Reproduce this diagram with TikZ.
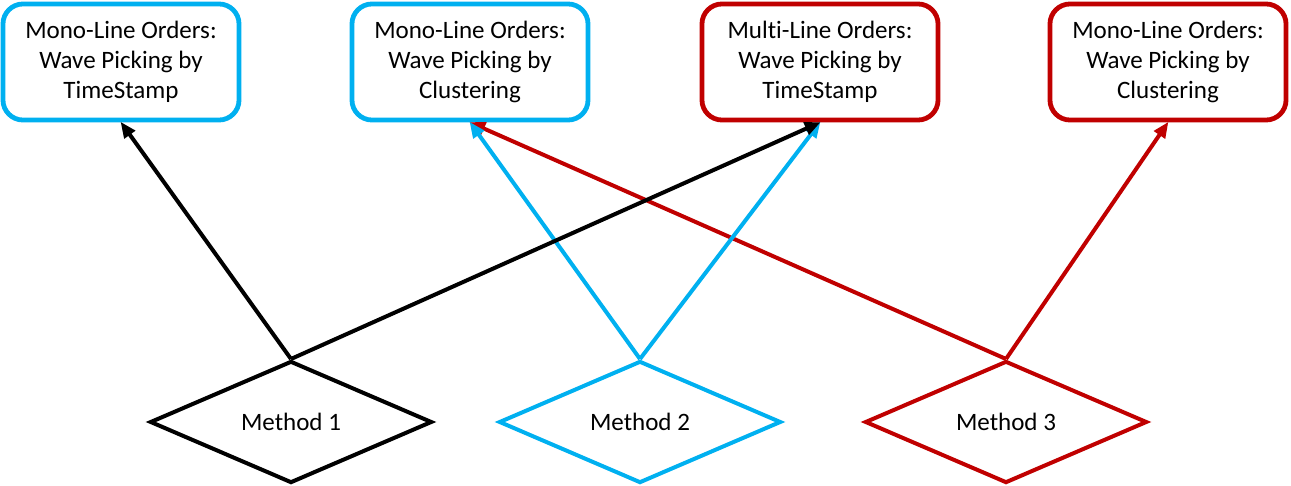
\documentclass[tikz,border=0pt]{standalone}
\usepackage{fontspec}
\setmainfont{Carlito}[Ligatures=NoCommon]
\usepackage{tikz}
\usetikzlibrary{shapes.geometric,arrows.meta,positioning}
\definecolor{lineblue}{HTML}{00B0F0}
\definecolor{linered}{HTML}{C00000}

\begin{document}
\begin{tikzpicture}[x=0.025cm, y=-0.025cm,
    order/.style={draw, rounded corners=0.5cm, line width=0.12cm, minimum width=5.9cm, minimum height=2.9cm, align=center, font=\fontsize{17.8}{21.3}\selectfont, inner sep=0pt},
    method/.style={draw, diamond, line width=0.1cm, minimum width=7.05cm, minimum height=3.05cm, font=\fontsize{17.8}{21.3}\selectfont, inner sep=0pt},
    link/.style={line width=0.1cm, -{Triangle[length=0.4cm, width=0.32cm]}, shorten >=-0.02cm}]
    \useasboundingbox (0,0) rectangle (1291,486);

    % order boxes
    \node[order, lineblue] (monotime) at (121,62) {\color{black}Mono-Line Orders:\\\color{black}Wave Picking by\\\color{black}TimeStamp};
    \node[order, lineblue] (monoclust) at (470,62) {\color{black}Mono-Line Orders:\\\color{black}Wave Picking by\\\color{black}Clustering};
    \node[order, linered] (multitime) at (820,62) {\color{black}Multi-Line Orders:\\\color{black}Wave Picking by\\\color{black}TimeStamp};
    \node[order, linered] (monoclustb) at (1168,62) {\color{black}Mono-Line Orders:\\\color{black}Wave Picking by\\\color{black}Clustering};

    % methods
    \node[method, black] (m1) at (291,422) {Method 1};
    \node[method, lineblue, text=black] (m2) at (640,422) {Method 2};
    \node[method, linered, text=black] (m3) at (1006,422) {Method 3};

    % links
    \draw[link, black] (m1.north) -- (monotime.south);
    \draw[link, linered] (m3.north) -- (monoclust.south);
    \draw[link, linered] (m3.north) -- (monoclustb.south);
    \draw[link, lineblue] (m2.north) -- (monoclust.south);
    \draw[link, lineblue] (m2.north) -- (multitime.south);
    \draw[link, black] (m1.north) -- (multitime.south);
\end{tikzpicture}
\end{document}
